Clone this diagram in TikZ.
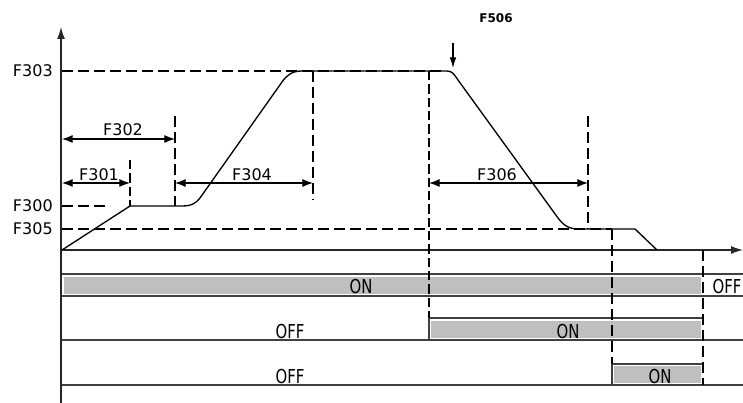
\documentclass[tikz,border=0pt]{standalone}
\usepackage{fontspec}
\setmainfont{DejaVu Sans}
\usetikzlibrary{arrows.meta}
\newcommand\stt[1]{\scalebox{0.93}[1.2]{#1}}
\begin{document}
\begin{tikzpicture}[x=0.75pt,y=-0.75pt,
 axisline/.style={line width=1pt, draw=black!85},
 dsh/.style={line width=1.6pt, dash pattern=on 8pt off 4pt},
 thindsh/.style={line width=0.8pt, dash pattern=on 7pt off 3pt},
 speed/.style={line width=1pt, line join=round},
 dim/.style={line width=0.9pt, {Latex[length=8pt,width=6pt]}-{Latex[length=8pt,width=6pt]}},
 lbl/.style={font=\fontsize{12pt}{14pt}\selectfont, inner sep=0pt},
 barfill/.style={fill=black!25, draw=none},
 baredge/.style={draw=black!75, line width=0.9pt},
 rowline/.style={line width=1pt, draw=black!75},
]
\useasboundingbox (0,0) rectangle (743,403);

% key coordinates
\coordinate (O) at (61,250);
\coordinate (ytop) at (61,27);
\coordinate (ybot) at (61,403);
\coordinate (xend) at (743,250);

% gray bars
\fill[barfill] (64,277) rectangle (701,294);
\fill[barfill] (431,321) rectangle (701,338);
\fill[barfill] (614,366) rectangle (701,383);
\draw[baredge] (429,340) -- (429,318) -- (703,318);
\draw[baredge] (612,385) -- (612,364) -- (703,364);

% row lines
\foreach \yy in {274,296,340,385}
  \draw[rowline] (61,\yy) -- (743,\yy);

% axes
\draw[axisline, -{Latex[length=9pt,width=6pt]}] (ybot) -- (ytop);
\draw[axisline, -{Latex[length=9pt,width=6pt]}] (O) -- (xend);

% horizontal dashed levels
\draw[dsh] (62,71) -- (445,71);
\draw[dsh] (62,206) -- (110,206);
\draw[dsh] (62,229) -- (612,229);

% vertical dashed lines
\draw[thindsh] (130,160) -- (130,206);
\draw[dsh] (175,116) -- (175,206);
\draw[dsh] (313,71) -- (313,200);
\draw[thindsh] (429,71) -- (429,318);
\draw[dsh] (588,116) -- (588,229);
\draw[dsh] (612,229) -- (612,364);
\draw[dsh] (703,250) -- (703,385);

% speed curve
\draw[speed] (62,250) -- (130,206) -- (182,206)
  .. controls (192,206) and (196,203) .. (200,198) -- (282,82)
  .. controls (287,75) and (292,71) .. (302,71) -- (447,71)
  .. controls (452,71) and (454,74) .. (458,80) -- (558,218)
  .. controls (565,227) and (570,229) .. (580,229) -- (635,229) -- (657,250);

% dimension arrows
\coordinate (d302a) at (62,139); \coordinate (d302b) at (175,139);
\coordinate (d301a) at (62,183); \coordinate (d301b) at (130,183);
\coordinate (d304a) at (175,183); \coordinate (d304b) at (313,183);
\coordinate (d306a) at (429,183); \coordinate (d306b) at (588,183);
\draw[dim] (d302a) -- (d302b);
\draw[dim] (d301a) -- (d301b);
\draw[dim] (d304a) -- (d304b);
\draw[dim] (d306a) -- (d306b);

% labels
\node[lbl, anchor=east] (l303) at (53,71) {F303};
\node[lbl, anchor=east] (l300) at (53,206) {F300};
\node[lbl, anchor=east] (l305) at (53,229) {F305};
\node[lbl] (l302) at (123,130) {F302};
\node[lbl] (l301) at (99,175) {F301};
\node[lbl] (l304) at (252,175) {F304};
\node[lbl] (l306) at (497,175) {F306};
\node[lbl, font=\bfseries\fontsize{9pt}{11pt}\selectfont] (l506) at (496,18) {F506};
\coordinate (a506) at (453,43);
\coordinate (b506) at (453,68);
\draw[line width=0.9pt, -{Latex[length=8pt,width=5pt]}] (a506) -- (b506);

% state texts
\node[lbl] (on1) at (361,287) {\stt{ON}};
\node[lbl] (off1) at (727,287) {\stt{OFF}};
\node[lbl] (off2) at (290,332) {\stt{OFF}};
\node[lbl] (on2) at (568,332) {\stt{ON}};
\node[lbl] (off3) at (290,377) {\stt{OFF}};
\node[lbl] (on3) at (660,377) {\stt{ON}};
\end{tikzpicture}
\end{document}
